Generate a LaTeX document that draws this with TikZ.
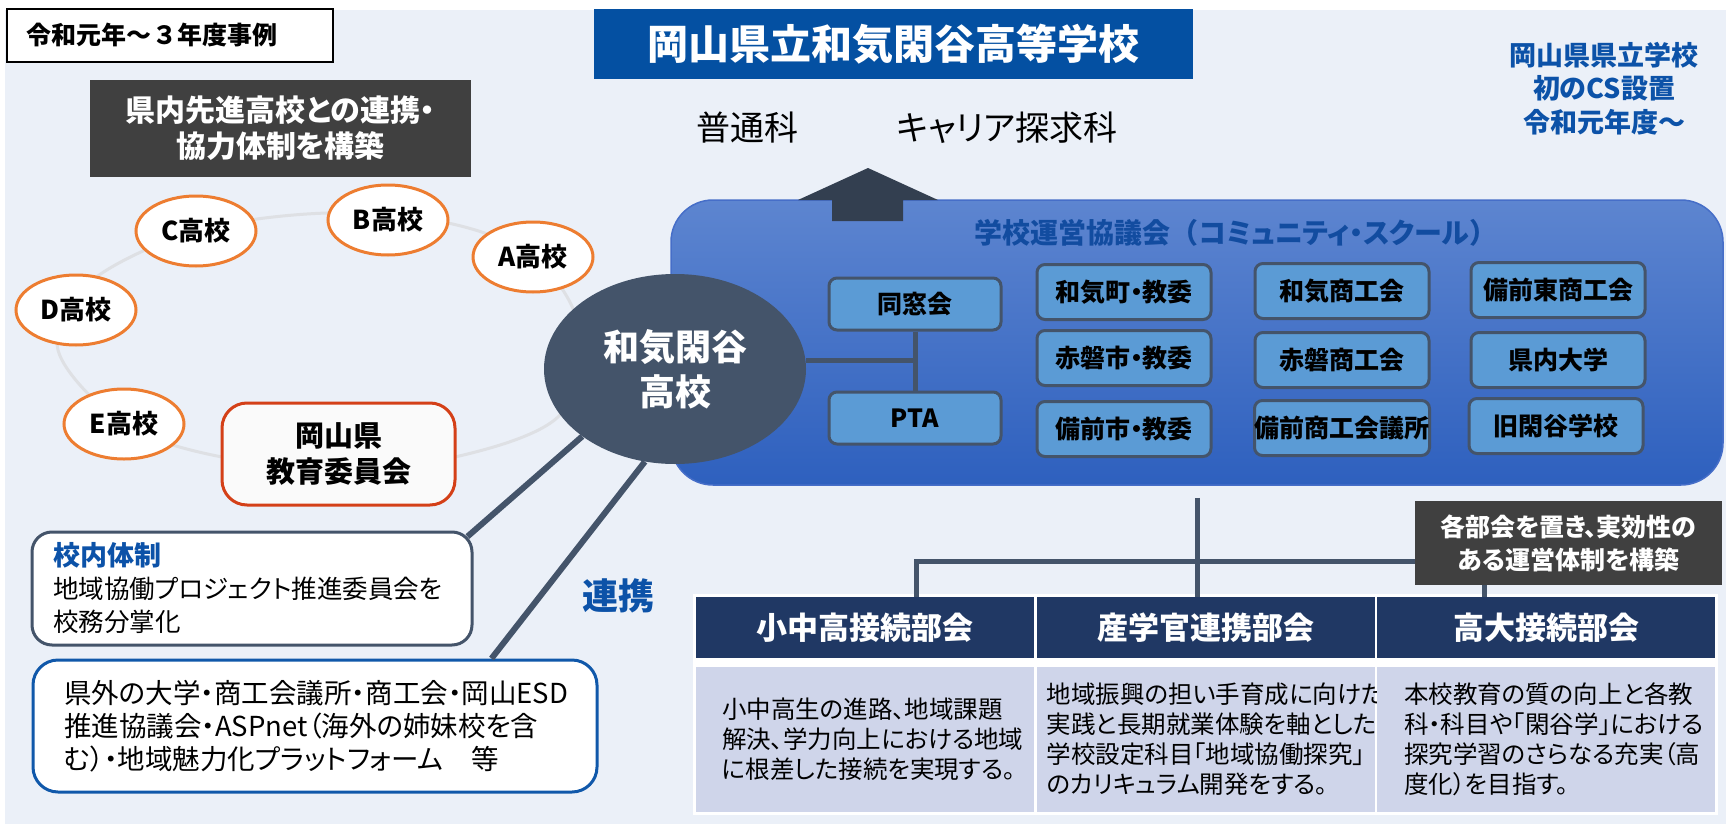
\documentclass[tikz,border=0pt]{standalone}
\usepackage{fontspec}
\setmainfont{Noto Sans CJK JP}[RawFeature=+palt]
\newfontfamily\jpfull{Noto Sans CJK JP}
\usetikzlibrary{positioning,shapes.geometric}

\definecolor{bgc}{RGB}{235,240,248}
\definecolor{titlec}{RGB}{4,80,162}
\definecolor{darkc}{RGB}{64,64,64}
\definecolor{orangec}{RGB}{237,125,49}
\definecolor{redc}{RGB}{212,64,24}
\definecolor{boardc}{RGB}{250,250,250}
\definecolor{slatec}{RGB}{68,84,106}
\definecolor{arrowc}{RGB}{51,63,80}
\definecolor{textblue}{RGB}{12,82,168}
\definecolor{ctitlec}{RGB}{18,76,160}
\definecolor{topc}{RGB}{93,133,208}
\definecolor{botc}{RGB}{46,96,190}
\definecolor{memberc}{RGB}{91,155,213}
\definecolor{navyc}{RGB}{32,56,100}
\definecolor{bodyc}{RGB}{207,213,234}
\definecolor{extc}{RGB}{16,88,170}
\definecolor{arcc}{RGB}{222,224,228}

\newcommand{\fsz}[2]{\fontsize{#1}{#2}\selectfont}

\begin{document}
\begin{tikzpicture}[x=1pt,y=-1pt,
  period/.style={draw=black,line width=2pt,fill=white,minimum width=326pt,
    minimum height=53pt,text width=286pt,inner xsep=20pt,align=left,
    font=\jpfull\fsz{25}{30}\bfseries},
  titlebox/.style={fill=titlec,text=white,minimum width=599pt,minimum height=70pt,
    inner sep=0pt,font=\fsz{41}{48}\bfseries},
  darkbox/.style={fill=darkc,text=white,align=center,inner sep=0pt,
    font=\fsz{30}{36}\bfseries},
  bluetext/.style={text=textblue,align=center,inner sep=0pt},
  school/.style={ellipse,draw=orangec,line width=3pt,fill=white,
    minimum width=120pt,minimum height=70pt,inner sep=0pt,font=\fsz{26}{30}\bfseries},
  board/.style={rectangle,rounded corners=25pt,draw=redc,line width=3pt,fill=boardc,
    minimum width=233pt,minimum height=102pt,align=center,font=\fsz{29}{36}\bfseries},
  council/.style={rectangle,rounded corners=42pt,top color=topc,bottom color=botc,
    draw={rgb,255:red,70;green,110;blue,200},line width=1.5pt,
    minimum width=1052pt,minimum height=285pt},
  member/.style={rectangle,rounded corners=8pt,draw=slatec,line width=3pt,fill=memberc,
    minimum width=174pt,minimum height=55pt,inner sep=0pt,font=\fsz{25}{28}\bfseries},
  link/.style={draw=slatec,line width=5pt},
  infobox/.style={rectangle,rounded corners=20pt,fill=white,line width=3pt,
    align=left,inner ysep=0pt,font=\fsz{25.5}{33}},
  head/.style={fill=navyc,text=white,minimum width=338pt,minimum height=61pt,
    inner sep=0pt,font=\fsz{31}{36}\bfseries},
  body/.style={fill=bodyc,minimum width=338pt,minimum height=145pt,inner ysep=0pt,
    align=left,font=\fsz{24.5}{30}}]
% canvas
\useasboundingbox (0,0) rectangle (1726,824);
\fill[bgc] (5,10) rectangle (1726,824);
% faint ring through the partner schools
\draw[arcc,line width=3pt] plot[smooth cycle,tension=0.55] coordinates {(196,231)
  (327,213) (448,223) (533,257) (578,325) (560,415) (455,457) (338,466) (222,457)
  (124,424) (58,350) (90,282)};
% top row
\node[period] (period) at (170,35.5) {令和元年～３年度事例};
\node[titlebox] (title) at (893.5,44) {岡山県立和気閑谷高等学校};
\node[font=\fsz{34}{40}] (futsu) at (747,128) {普通科};
\node[font=\fsz{34}{40}] (career) at (1007,128) {キャリア探求科};
\node[bluetext,font=\fsz{27}{33.5}\bfseries] (cs) at (1604,88.5)
  {岡山県県立学校\\初のCS設置\\令和元年度～};
% partner schools
\node[darkbox,minimum width=381pt,minimum height=97pt] (partner) at (280.5,128.5)
  {県内先進高校との連携・\\協力体制を構築};
\foreach \nm/\px/\py in {A/533/257,B/388/220,C/196/231,D/76/310,E/124/424}
  \node[school] (s\nm) at (\px,\py) {{\nm}高校};
\node[board] (board) at (338.5,454) {岡山県\\教育委員会};
% school council
\node[council] (council) at (1197,342.5) {};
\node[font=\fsz{28}{32}\bfseries,text=ctitlec] (ctitle) at (1236,233)
  {学校運営協議会{\jpfull （}コミュニティ・スクール{\jpfull ）}};
\node[member,minimum width=172pt,minimum height=52pt] (dosokai) at (915,304) {同窓会};
\node[member,minimum width=172pt,minimum height=52pt] (pta) at (915,418) {PTA};
\foreach \nm/\cx/\cy/\txt in {m11/1124/292/和気町・教委,m21/1124/358/赤磐市・教委,
    m31/1124/429/備前市・教委,m12/1342/291/和気商工会,m22/1342/360/赤磐商工会,
    m32/1342/428/備前商工会議所,m13/1558/290/備前東商工会,m23/1558/360/県内大学,
    m33/1556/426/旧閑谷学校}
  \node[member] (\nm) at (\cx,\cy) {\txt};
% upward arrow
\fill[arrowc] (868,168) -- (938,200) -- (903,200) -- (903,221) -- (832,221)
  -- (832,200) -- (798,200) -- cycle;
% Wake Shizutani
\node[ellipse,fill=slatec,minimum width=262pt,minimum height=190pt,inner sep=0pt,
  text=white,align=center,font=\fsz{36}{45}\bfseries] (school) at (675,369)
  {和気閑谷\\高校};
\coordinate (hub) at (915,360);
\draw[link] (school.east |- hub) -- (hub);
\draw[link] (dosokai.south) -- (pta.north);
% in-school and outside partners
\node[infobox,draw=slatec,minimum width=440pt,minimum height=113pt,text width=398pt,
  inner xsep=21pt] (inner) at (252,588.5)
  {{\fsz{27}{33}\bfseries\color{textblue}校内体制}\\地域協働プロジェクト推進委員会を\\校務分掌化};
\node[infobox,draw=extc,rounded corners=25pt,minimum width=564pt,minimum height=132pt,
  text width=502pt,inner xsep=31pt,font=\fsz{27.5}{33}] (ext) at (315,726)
  {県外の大学・商工会議所・商工会・岡山ESD\\推進協議会・ASPnet（海外の姉妹校を含\\む）・地域魅力化プラットフォーム　等};
\draw[link,line width=6pt] (school.216) -- ([xshift=-6pt,yshift=-6pt]inner.north east);
\draw[link,line width=6pt] (school.252) -- ([xshift=-107pt]ext.north east);
\node[font=\fsz{36}{40}\bfseries,text=textblue] (renkei) at (618,596) {連携};
% sub-committees
\fill[white] (693,594) rectangle (1718,815);
\foreach \i/\txt in {1/小中高接続部会,2/産学官連携部会,3/高大接続部会} {
  \pgfmathsetmacro{\cx}{865+340.5*(\i-1)}
  \node[head] (h\i) at (\cx,627.5) {\txt};
}
\node[body,text width=286pt,inner xsep=26pt] (b1) at (865,739.5)
  {小中高生の進路、地域課題\\解決、学力向上における地域\\に根差した接続を実現する。};
\node[body,text width=318pt,inner xsep=10pt] (b2) at (1205.5,739.5)
  {地域振興の担い手育成に向けた\\実践と長期就業体験を軸とした\\学校設定科目「地域協働探究」\\のカリキュラム開発をする。};
\node[body,text width=284pt,inner xsep=27pt] (b3) at (1546,739.5)
  {本校教育の質の向上と各教\\科・科目や「閑谷学」における\\探究学習のさらなる充実（高\\度化）を目指す。};
% links down to the sub-committees
\coordinate (busL) at (916,561);
\coordinate (busR) at (1484,561);
\draw[link] ([yshift=-12pt]council.south) -- (council.south |- h2.north);
\draw[link] (busL |- h1.north) -- (busL) -- (busR) -- (busR |- h3.north);
\node[darkbox,minimum width=307pt,minimum height=84pt,font=\fsz{25}{33}\bfseries]
  (note) at (1568.5,543) {各部会を置き、実効性の\\ある運営体制を構築};
\end{tikzpicture}
\end{document}
